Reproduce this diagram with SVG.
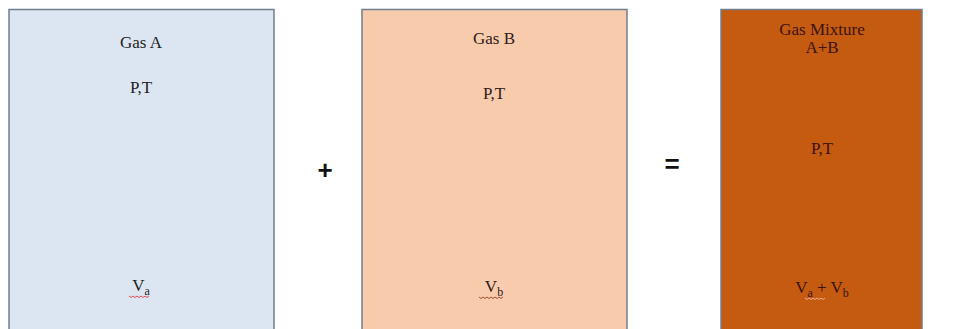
<svg xmlns="http://www.w3.org/2000/svg" width="979" height="329" viewBox="0 0 979 329">
<style>
.box{stroke:#6f7f8e;stroke-width:1.5}
.t{font-family:"Liberation Serif","Times New Roman",serif;font-size:17px;text-anchor:middle}
.sub{font-size:12px}
.op{font-family:"Liberation Sans",Arial,sans-serif;font-size:26px;font-weight:bold;text-anchor:middle;fill:#111}
.sq{fill:none;stroke-width:1}
</style>
<rect width="979" height="329" fill="#ffffff"/>
<g id="gasA">
<rect class="box" x="9" y="9.5" width="265" height="322" fill="#dce6f2"/>
<text class="t" x="141" y="48" fill="#1e1e1e">Gas A</text>
<text class="t" x="141" y="93" fill="#1e1e1e">P,T</text>
<text class="t" x="141" y="291" fill="#1e1e1e">V<tspan class="sub" dy="4">a</tspan></text>
<path class="sq" stroke="#e05050" d="M129 296 q2 3 4 0 q2 3 4 0 q2 3 4 0 q2 3 4 0 q2 3 4 0"/>
</g>
<g id="gasB">
<rect class="box" x="362" y="9.5" width="265" height="322" fill="#f8cbad"/>
<text class="t" x="494" y="44" fill="#2e2018">Gas B</text>
<text class="t" x="494" y="99" fill="#2e2018">P,T</text>
<text class="t" x="494" y="292" fill="#2e2018">V<tspan class="sub" dy="4">b</tspan></text>
<path class="sq" stroke="#a0522d" d="M479 297 q2 3 4 0 q2 3 4 0 q2 3 4 0 q2 3 4 0 q2 3 4 0 q2 3 4 0"/>
</g>
<g id="mixture">
<rect class="box" x="721" y="9.5" width="201" height="322" fill="#c55a11"/>
<text class="t" x="822" y="35" fill="#3a1508">Gas Mixture</text>
<text class="t" x="822" y="53" fill="#3a1508">A+B</text>
<text class="t" x="822" y="154" fill="#3a1508">P,T</text>
<text class="t" x="822" y="293" fill="#3a1508">V<tspan class="sub" dy="4">a</tspan><tspan dy="-4"> + V</tspan><tspan class="sub" dy="4">b</tspan></text>
<path class="sq" stroke="#f0b090" d="M805 298 q2 3 4 0 q2 3 4 0 q2 3 4 0 q2 3 4 0 q2 3 4 0"/>
</g>
<g id="connectors">
<text class="op" x="325" y="179">+</text>
<text class="op" x="672" y="173">=</text>
</g>
</svg>
